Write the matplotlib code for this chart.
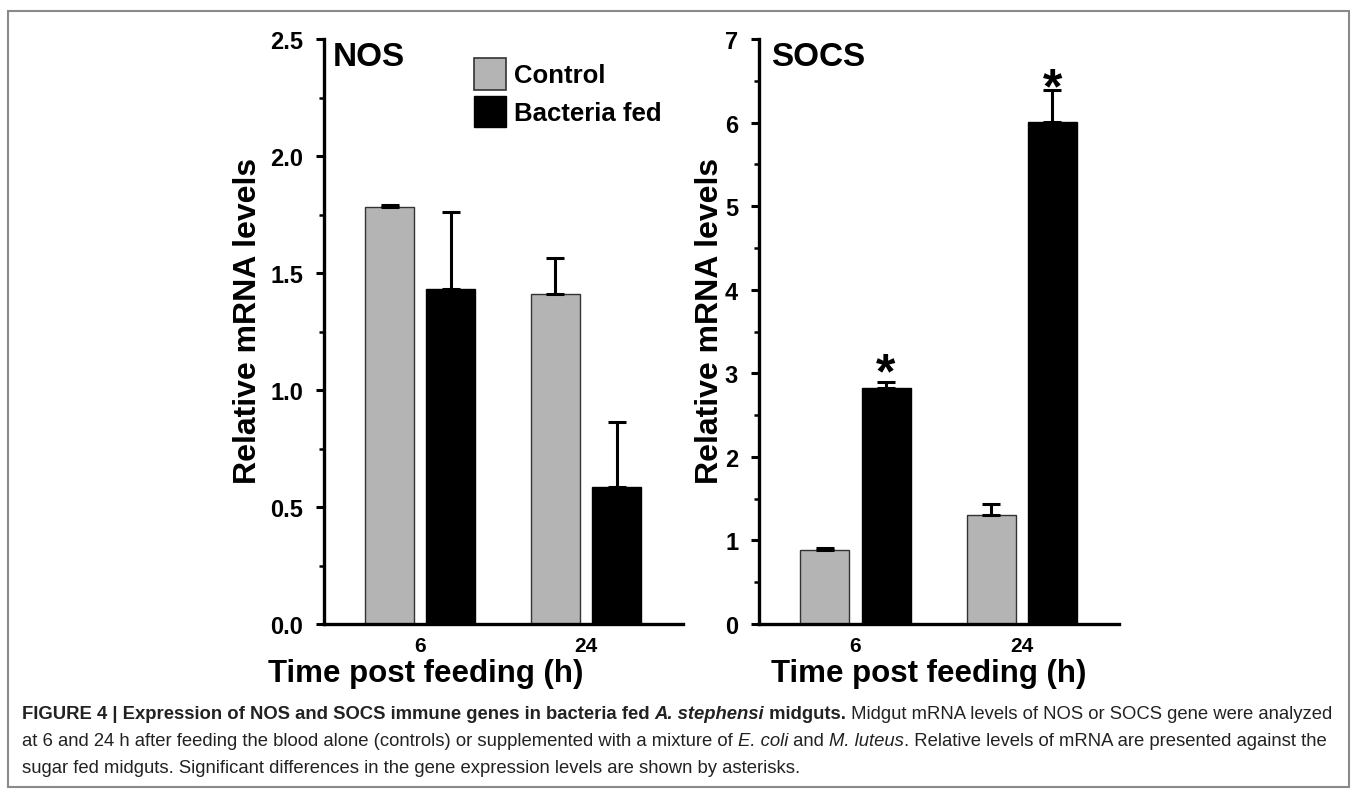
# Figure 4 style: NOS and SOCS relative mRNA levels, two bar panels + caption

import numpy as np
import matplotlib
matplotlib.use("Agg")
import matplotlib.pyplot as plt
from matplotlib import font_manager
from matplotlib.patches import Rectangle, Patch
from matplotlib.ticker import MultipleLocator, FormatStrFormatter


# Fonts available in the sandbox
names = {f.name for f in font_manager.fontManager.ttflist}
SANS = "Liberation Sans" if "Liberation Sans" in names else "DejaVu Sans"
HAS_NARROW = "Liberation Sans Narrow" in names
NARROW = "Liberation Sans Narrow" if HAS_NARROW else SANS

plt.rcParams.update({
    "font.family": SANS,
    "axes.linewidth": 2.4,
})


# Data

groups = ["6", "24"]

nos_control = [1.78, 1.41]
nos_control_err = [0.01, 0.155]
nos_bacteria = [1.43, 0.585]
nos_bacteria_err = [0.33, 0.28]

socs_control = [0.89, 1.30]
socs_control_err = [0.02, 0.14]
socs_bacteria = [2.82, 6.01]
socs_bacteria_err = [0.08, 0.38]
socs_star_y = [3.17, 6.57]      # centre of the significance asterisks


GRAY = "#b4b4b4"
W, H = 1357, 804
XLAB_SIZE = 26 if HAS_NARROW else 22.5
XTICK_SIZE = 17 if HAS_NARROW else 15

fig = plt.figure(figsize=(W / 100, H / 100), dpi=100)

ax1 = fig.add_axes([324 / W, 1 - 625 / H, 359 / W, 585 / H])
ax2 = fig.add_axes([759 / W, 1 - 625 / H, 360 / W, 585 / H])

bar_w = 0.295
off = 0.184


def panel(ax, ctrl, ctrl_err, bact, bact_err, ymax, major, minor, fmt,
          title, title_x, ylab_x, xlab_x):
    x = np.arange(len(groups))
    ax.bar(x - off, ctrl, width=bar_w, color=GRAY, edgecolor="#333333",
           linewidth=1.0, zorder=2)
    ax.bar(x + off, bact, width=bar_w, color="black", edgecolor="black",
           linewidth=1.0, zorder=2)
    for xx, v, e in ((x - off, ctrl, ctrl_err), (x + off, bact, bact_err)):
        ax.errorbar(xx, v, yerr=[np.zeros(len(v)), e], fmt="none",
                    ecolor="black", elinewidth=2.2, capsize=6.5,
                    capthick=2.2, zorder=3)

    ax.set_xlim(-0.58, 1.585)
    ax.set_ylim(0, ymax)
    ax.spines["top"].set_visible(False)
    ax.spines["right"].set_visible(False)

    ax.set_xticks(x, groups)
    ax.tick_params(axis="x", length=0, pad=9)
    for lab in ax.get_xticklabels():
        lab.set_fontfamily(NARROW)
        lab.set_fontweight("bold")
        lab.set_fontsize(XTICK_SIZE)

    ax.yaxis.set_major_locator(MultipleLocator(major))
    ax.yaxis.set_minor_locator(MultipleLocator(minor))
    ax.yaxis.set_major_formatter(FormatStrFormatter(fmt))
    ax.tick_params(axis="y", which="major", direction="out", length=6,
                   width=2.2, labelsize=17, pad=9)
    ax.tick_params(axis="y", which="minor", direction="out", length=3.5,
                   width=1.8)
    for lab in ax.get_yticklabels():
        lab.set_fontweight("bold")

    ax.set_ylabel("Relative mRNA levels", fontsize=23, fontweight="bold",
                  va="center")
    ax.yaxis.set_label_coords(ylab_x, 0.52)

    ax.text(xlab_x, -0.0974, "Time post feeding (h)", transform=ax.transAxes,
            ha="center", va="baseline", fontsize=XLAB_SIZE, fontweight="bold",
            family=NARROW)

    ax.text(title_x, 0.956, title, transform=ax.transAxes, ha="left",
            va="baseline", fontsize=24, fontweight="bold")


panel(ax1, nos_control, nos_control_err, nos_bacteria, nos_bacteria_err,
      2.5, 0.5, 0.25, "%.1f", "NOS", 0.025, -0.212, 0.284)
panel(ax2, socs_control, socs_control_err, socs_bacteria, socs_bacteria_err,
      7, 1, 0.5, "%d", "SOCS", 0.033, -0.136, 0.47)

# Significance asterisks over bacteria-fed SOCS bars
for i, sy in enumerate(socs_star_y):
    ax2.annotate("*", xy=(i + off, sy), xytext=(0, -20),
                 textcoords="offset points", ha="center", va="baseline",
                 fontsize=36, fontweight="bold")

# Legend
handles = [Patch(facecolor=GRAY, edgecolor="#333333", linewidth=1.2,
                 label="Control"),
           Patch(facecolor="black", edgecolor="black", label="Bacteria fed")]
ax1.legend(handles=handles, loc="upper left", bbox_to_anchor=(0.418, 0.9675),
           frameon=False, borderpad=0, borderaxespad=0, handlelength=1.25,
           handleheight=1.53, handletextpad=0.3, labelspacing=0.22,
           prop={"family": SANS, "weight": "bold", "size": 18.5})


# Caption with mixed styles

renderer = fig.canvas.get_renderer()


def width_px(s, **kw):
    t = fig.text(0, 0, s + "|", **kw)
    w1 = t.get_window_extent(renderer).width
    t.remove()
    t = fig.text(0, 0, "|", **kw)
    w2 = t.get_window_extent(renderer).width
    t.remove()
    return w1 - w2


cap_lines = [
    [("FIGURE 4 | Expression of NOS and SOCS immune genes in bacteria fed ", "bold", "normal"),
     ("A. stephensi", "bold", "italic"),
     (" midguts.", "bold", "normal"),
     (" Midgut mRNA levels of NOS or SOCS gene were analyzed", "normal", "normal")],
    [("at 6 and 24 h after feeding the blood alone (controls) or supplemented with a mixture of ", "normal", "normal"),
     ("E. coli", "normal", "italic"),
     (" and ", "normal", "normal"),
     ("M. luteus", "normal", "italic"),
     (". Relative levels of mRNA are presented against the", "normal", "normal")],
    [("sugar fed midguts. Significant differences in the gene expression levels are shown by asterisks.", "normal", "normal")],
]
cap_baselines = [719, 746, 773]
cap_x0 = 22
cap_target = 1313

base = 10
w_line1 = sum(width_px(s, family=NARROW, weight=wt, style=st, size=base)
              for s, wt, st in cap_lines[0])
cap_size = base * cap_target / w_line1

for parts, yb in zip(cap_lines, cap_baselines):
    xpos = cap_x0
    for s, wt, st in parts:
        kw = dict(family=NARROW, weight=wt, style=st, size=cap_size)
        fig.text(xpos / W, 1 - yb / H, s, ha="left", va="baseline",
                 color="#222222", **kw)
        xpos += width_px(s, **kw)

# Frame round the figure
fig.add_artist(Rectangle((8 / W, 1 - 788 / H), 1341 / W, 776 / H,
                         transform=fig.transFigure, fill=False,
                         edgecolor="#8a8a8a", linewidth=1.5))

fig.savefig("out.png", dpi=100)
plt.close(fig)
